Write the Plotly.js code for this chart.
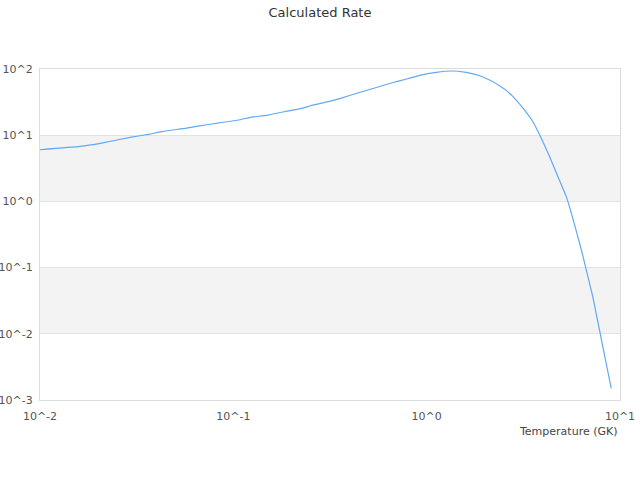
<!DOCTYPE html>
<html>
<head>
<meta charset="utf-8">
<script src="https://cdn.plot.ly/plotly-3.0.1.min.js"></script>
<style>html,body{margin:0;padding:0;background:#fff;}#chart{width:640px;height:480px;}</style>
</head>
<body>
<div id="chart"></div>
<script>
var temperature = [0.01, 0.0161, 0.0208, 0.0292, 0.037, 0.0432, 0.0573, 0.0727, 0.0818, 0.108,
  0.124, 0.149, 0.185, 0.229, 0.254, 0.297, 0.362, 0.44, 0.538, 0.656,
  0.797, 0.92, 1.12, 1.34, 1.6, 1.88, 2.2, 2.38, 2.58, 2.79,
  3.15, 3.54, 3.91, 4.32, 4.77, 5.27, 5.6, 6.31, 6.69, 7.23,
  7.83, 8.48, 9.01];
var rate = [6.03, 6.76, 7.6, 9.25, 10.4, 11.4, 12.8, 14.4, 15.1, 17.1,
  18.8, 19.9, 22.8, 25.7, 28.2, 31.3, 36.4, 43.4, 51.6, 61.4,
  71.3, 80, 88.9, 93.3, 88.9, 79.2, 64.3, 56.0, 47.5, 38.6,
  25.7, 16.1, 9.06, 4.77, 2.38, 1.19, 0.665, 0.186, 0.0925, 0.0365,
  0.01146, 0.00359, 0.0015];
var xTickVals = [0.01, 0.1, 1, 10];
var xTickText = ['10^-2', '10^-1', '10^0', '10^1'];
var yTickVals = [0.001, 0.01, 0.1, 1, 10, 100];
var yTickText = ['10^-3', '10^-2', '10^-1', '10^0', '10^1', '10^2'];

var font = 'DejaVu Sans, sans-serif';
var trace = {
  x: temperature, y: rate, type: 'scatter', mode: 'lines',
  line: {color: '#62a8f3', width: 1.2, shape: 'spline', smoothing: 0.4}, hoverinfo: 'none'
};
var layout = {
  width: 640, height: 480,
  margin: {l: 40, r: 20, t: 69, b: 80},
  paper_bgcolor: '#ffffff', plot_bgcolor: '#ffffff',
  showlegend: false,
  title: {text: 'Calculated Rate', x: 0.5, xanchor: 'center', y: 0.975, yanchor: 'middle',
          font: {family: font, size: 13, color: '#333333'}},
  xaxis: {type: 'log', range: [-2, 1], tickvals: xTickVals, ticktext: xTickText,
          showgrid: false, zeroline: false, showline: true, mirror: true, linecolor: '#dcdcdc', linewidth: 1,
          ticks: '', ticklabelstandoff: 6, tickfont: {family: font, size: 11, color: '#555555'}},
  yaxis: {type: 'log', range: [-3, 2], tickvals: yTickVals, ticktext: yTickText,
          showgrid: true, gridcolor: '#e3e3e3', zeroline: false, showline: true, mirror: true, linecolor: '#dcdcdc', linewidth: 1,
          ticks: '', ticklabelstandoff: 4, tickfont: {family: font, size: 11, color: '#555555'}},
  shapes: [
    {type: 'rect', xref: 'paper', yref: 'y domain', x0: 0, x1: 1, y0: 0.6, y1: 0.8, fillcolor: '#f3f3f3', line: {width: 0}, layer: 'below'},
    {type: 'rect', xref: 'paper', yref: 'y domain', x0: 0, x1: 1, y0: 0.2, y1: 0.4, fillcolor: '#f3f3f3', line: {width: 0}, layer: 'below'}
  ],
  annotations: [
    {text: 'Temperature (GK)', xref: 'paper', yref: 'paper', x: 1, xanchor: 'right', y: -0.094, yanchor: 'middle',
     showarrow: false, font: {family: font, size: 11, color: '#444444'}}
  ]
};
Plotly.newPlot('chart', [trace], layout, {displayModeBar: false, staticPlot: true});
</script>
</body>
</html>
